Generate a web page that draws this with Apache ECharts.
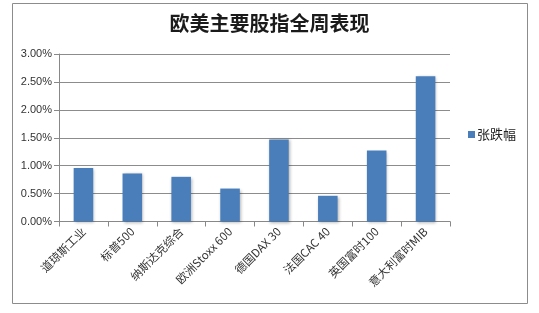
<!DOCTYPE html>
<html><head><meta charset="utf-8">
<script src="https://cdn.jsdelivr.net/npm/echarts@6/dist/echarts.min.js"></script>
<style>html,body{margin:0;padding:0;background:#fff}#c{width:539px;height:313px}</style>
</head><body><div id="c"></div>
<script>
const categories = ["道琼斯工业","标普500","纳斯达克综合","欧洲Stoxx 600","德国DAX 30","法国CAC 40","英国富时100","意大利富时MIB"];
const values = [0.96, 0.86, 0.80, 0.59, 1.47, 0.46, 1.27, 2.60];
const seriesName = "张跌幅";
const titleText = "欧美主要股指全周表现";

const chart = echarts.init(document.getElementById('c'));
chart.setOption({
  animation: false,
  backgroundColor: '#fff',
  graphic: [{type:'rect', shape:{x:12.5,y:3.5,width:515,height:300}, style:{fill:'none',stroke:'#8c8c8c',lineWidth:1}, silent:true}],
  title: {text: titleText, left: 'center', top: 8, textStyle:{fontFamily:'Noto Sans CJK SC', fontSize:20, fontWeight:'bold', color:'#1a1a1a'}},
  legend: {data:[{name:seriesName, icon:'rect'}], orient:'vertical', left: 463, top: 123, itemWidth:7, itemHeight:7, itemGap:4,
    textStyle:{fontFamily:'Noto Sans CJK SC', fontSize:13, color:'#222', padding:[0,0,0,-3]}},
  grid: {left:59, right:89, top:54, bottom:91.5, containLabel:false},
  xAxis: {type:'category', data:categories, boundaryGap:true,
    axisLine:{lineStyle:{color:'#888'}},
    axisTick:{show:true, length:5, lineStyle:{color:'#888'}},
    axisLabel:{rotate:45, interval:0, fontFamily:'Noto Sans CJK SC', fontSize:11.5, color:'#333', margin:8}},
  yAxis: {type:'value', min:0, max:3, interval:0.5,
    axisLine:{show:true, lineStyle:{color:'#888'}},
    axisTick:{show:true, length:5, lineStyle:{color:'#888'}},
    splitLine:{lineStyle:{color:'#8c8c8c'}},
    axisLabel:{formatter: v => v.toFixed(2) + '%', fontFamily:'Liberation Sans', fontSize:11, color:'#333', margin:7}},
  series: [{name: seriesName, type:'bar', data: values, barWidth:'40%',
    itemStyle:{color:'#4a7ebb', shadowColor:'rgba(0,0,0,0.3)', shadowBlur:3, shadowOffsetX:1, shadowOffsetY:1}}]
});
</script></body></html>
